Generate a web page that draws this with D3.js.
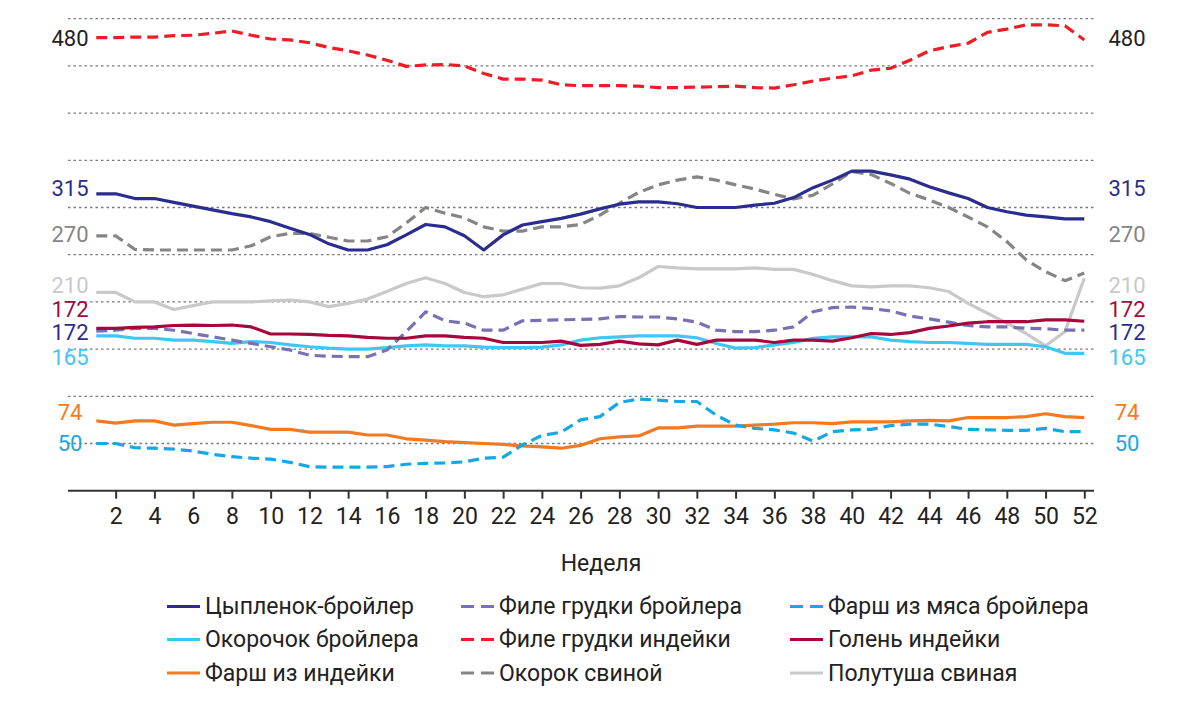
<!DOCTYPE html>
<html>
<head>
<meta charset="utf-8">
<script src="https://cdn.jsdelivr.net/npm/d3@7"></script>
<style>
  html, body { margin: 0; padding: 0; background: #fff; }
  svg { display: block; font-family: Roboto, "Noto Sans", sans-serif; }
</style>
</head>
<body>
<svg id="chart" width="1200" height="707"></svg>
<script>
// ---- DATA (index units; each gridline = 10) ----
const weeks = d3.range(1, 53);
const tickWeeks = d3.range(2, 53, 2);

const broiler = [62.9,62.9,61.9,61.9,61.1,60.3,59.5,58.7,58.0,57.0,55.6,54.3,52.3,51.0,51.0,52.1,54.2,56.4,55.9,54.0,51.0,54.2,56.3,57.0,57.7,58.6,59.7,60.7,61.2,61.2,60.8,60.0,60.0,60.0,60.5,60.9,62.1,64.2,65.8,67.7,67.7,66.9,66.0,64.4,63.1,61.9,60.0,59.1,58.4,58.0,57.6,57.6];
const broilerFillet = [33.8,34.0,34.4,34.4,34.0,33.3,32.6,31.9,31.2,30.5,29.8,28.7,28.5,28.4,28.4,29.8,33.7,37.9,36.0,35.5,34.0,34.0,36.0,36.1,36.2,36.3,36.4,36.9,36.8,36.8,36.4,35.7,34.0,33.7,33.7,34.0,34.7,37.9,38.8,38.9,38.6,38.1,37.0,36.4,35.7,35.0,34.7,34.7,34.4,34.3,34.0,34.0];
const broilerMince = [10.0,10.0,9.1,9.0,8.8,8.4,7.7,7.2,6.9,6.7,6.0,5.1,5.0,5.0,5.0,5.1,5.6,5.8,5.9,6.1,6.9,7.1,9.7,11.7,12.4,15.0,15.7,18.7,19.4,19.2,18.9,18.9,16.0,13.9,13.2,12.9,12.2,10.5,12.5,12.9,13.0,13.8,14.1,14.1,13.6,13.0,12.9,12.8,12.8,13.2,12.5,12.5];
const broilerLeg = [32.8,32.8,32.3,32.3,31.9,31.9,31.6,31.2,31.6,31.4,30.9,30.5,30.2,30.0,30.0,30.3,30.7,30.9,30.7,30.7,30.4,30.3,30.3,30.4,30.9,31.9,32.4,32.6,32.8,32.8,32.8,32.4,31.2,30.2,30.3,30.9,31.4,32.3,32.6,32.6,32.6,31.9,31.6,31.4,31.4,31.2,31.0,31.0,31.0,30.5,29.1,29.1];
const turkeyFillet = [96.0,96.0,96.1,96.1,96.4,96.5,96.9,97.4,96.5,95.7,95.5,94.9,93.9,93.2,92.3,91.2,89.9,90.2,90.3,90.0,88.4,87.2,87.2,87.0,86.0,85.8,85.8,85.8,85.7,85.4,85.4,85.5,85.6,85.7,85.4,85.3,86.0,86.8,87.4,87.9,89.1,89.5,91.2,93.2,94.1,94.8,97.1,97.8,98.7,98.7,98.5,95.5];
const turkeyShank = [34.4,34.4,34.6,34.7,35.0,35.1,35.0,35.1,34.7,33.2,33.2,33.1,32.9,32.8,32.5,32.3,32.3,32.8,32.8,32.5,32.3,31.4,31.4,31.4,31.7,30.8,31.0,31.7,31.1,30.9,31.9,31.0,31.9,31.9,31.9,31.4,31.9,31.9,31.7,32.4,33.3,33.1,33.5,34.4,34.9,35.5,35.8,35.8,35.8,36.2,36.2,35.9];
const turkeyMince = [14.8,14.3,14.8,14.8,13.9,14.2,14.5,14.5,13.8,13.0,13.0,12.4,12.4,12.4,11.8,11.8,11.0,10.7,10.4,10.2,10.0,9.8,9.5,9.3,9.0,9.6,11.0,11.4,11.6,13.3,13.3,13.7,13.7,13.7,13.9,14.1,14.4,14.4,14.2,14.6,14.6,14.6,14.8,14.9,14.8,15.5,15.5,15.5,15.7,16.3,15.7,15.5];
const porkHam = [54.0,54.0,51.1,51.0,51.0,51.0,51.0,51.0,51.9,53.8,54.5,54.5,53.7,52.9,52.9,53.8,56.7,60.0,58.8,57.8,55.9,55.0,55.0,55.9,55.9,56.4,58.4,60.9,63.2,64.8,65.8,66.5,65.8,64.8,63.9,62.8,61.8,62.6,65.0,67.6,67.0,65.1,63.0,61.6,60.0,58.0,55.9,52.8,48.9,46.4,44.5,46.1];
const porkHalf = [42.0,42.0,40.0,40.0,38.4,39.2,40.0,40.0,40.0,40.2,40.4,40.0,39.0,39.7,40.6,42.2,43.9,45.1,43.9,42.0,41.1,41.5,42.7,43.9,43.9,43.0,42.9,43.4,45.1,47.5,47.2,47.0,47.0,47.0,47.2,46.9,46.9,45.8,44.5,43.4,43.2,43.4,43.4,43.0,42.2,39.7,37.6,35.5,33.3,30.7,33.7,45.0];

const seriesNames = ["Цыпленок-бройлер","Филе грудки бройлера","Фарш из мяса бройлера","Окорочок бройлера","Филе грудки индейки","Голень индейки","Фарш из индейки","Окорок свиной","Полутуша свиная"];
const seriesValues = [broiler, broilerFillet, broilerMince, broilerLeg, turkeyFillet, turkeyShank, turkeyMince, porkHam, porkHalf];

// end-point value labels (same on both sides)
const labelTexts = ["480","315","270","210","172","172","165","74","50"];

// ---- STYLE / LAYOUT ----
const colors = ["#2b2d8e","#7772b6","#16a8e4","#40c6f2","#ee1d25","#a5083c","#f47a22","#858585","#c9c9c9"];
const dashed = [false,true,true,false,true,false,false,true,false];
const labelColors = ["#222222","#2b2d8e","#858585","#c9c9c9","#a5083c","#2b2d8e","#40c6f2","#f47a22","#16a8e4"];
const labelAt = [95.7,64.0,54.2,43.5,38.4,33.5,28.2,16.5,10.0]; // vertical label slots (data units)
const drawOrder = [8,7,6,2,3,1,5,0,4];
const legendCols = [[0,3,6],[1,4,7],[2,5,8]];

const svg = d3.select("#chart");
const x = d3.scaleLinear().domain([-0.46, 52.5]).range([68, 1094]);
const y = d3.scaleLinear().domain([0, 100]).range([490.7, 18.7]);

// gridlines
svg.append("g").selectAll("line").data(d3.range(10, 101, 10)).join("line")
  .attr("x1", 68).attr("x2", 1094)
  .attr("y1", d => y(d)).attr("y2", d => y(d))
  .attr("stroke", "#7a7a7a").attr("stroke-width", 1.3)
  .attr("stroke-dasharray", "2.5,3");

// x axis
const xAxis = d3.axisBottom(x).tickValues(tickWeeks).tickSize(8).tickSizeOuter(0).tickPadding(9);
const ax = svg.append("g").attr("transform", `translate(0,${y(0)})`).call(xAxis);
ax.select(".domain").attr("stroke", "#333").attr("stroke-width", 2).attr("d", "M68,0H1094");
ax.selectAll(".tick line").attr("stroke", "#333").attr("stroke-width", 2);
ax.selectAll(".tick text").attr("fill", "#222").style("font-size", "23px")
  .style("font-family", "Roboto, 'Noto Sans', sans-serif");

svg.append("text").attr("x", 601).attr("y", 571).attr("text-anchor", "middle")
  .attr("fill", "#222").style("font-size", "23px").text("Неделя");

// lines
const line = d3.line().x((d, i) => x(weeks[i])).y(d => y(d));
svg.append("g").selectAll("path").data(drawOrder).join("path")
  .attr("d", i => line(seriesValues[i]))
  .attr("fill", "none")
  .attr("stroke", i => colors[i])
  .attr("stroke-width", 3.2)
  .attr("stroke-linejoin", "round")
  .attr("stroke-dasharray", i => dashed[i] ? "11,6" : null);

// end labels
[70, 1127].forEach(cx => {
  svg.append("g").selectAll("text").data(labelTexts).join("text")
    .attr("x", cx).attr("y", (d, i) => y(labelAt[i]))
    .attr("text-anchor", "middle").attr("dominant-baseline", "central")
    .attr("fill", (d, i) => labelColors[i])
    .style("font-size", "22px")
    .text(d => d);
});

// legend
const colX = [167, 461, 790];
const rowY = [606.5, 639.5, 673];
legendCols.forEach((col, c) => {
  col.forEach((si, r) => {
    const g = svg.append("g").attr("transform", `translate(${colX[c]},${rowY[r]})`);
    g.append("line").attr("x1", 0).attr("x2", 33).attr("y1", 0).attr("y2", 0)
      .attr("stroke", colors[si]).attr("stroke-width", 3.2)
      .attr("stroke-dasharray", dashed[si] ? "13,7" : null);
    g.append("text").attr("x", 38).attr("y", 0).attr("dominant-baseline", "central")
      .attr("fill", "#222").style("font-size", "23px").text(seriesNames[si]);
  });
});
</script>
</body>
</html>
